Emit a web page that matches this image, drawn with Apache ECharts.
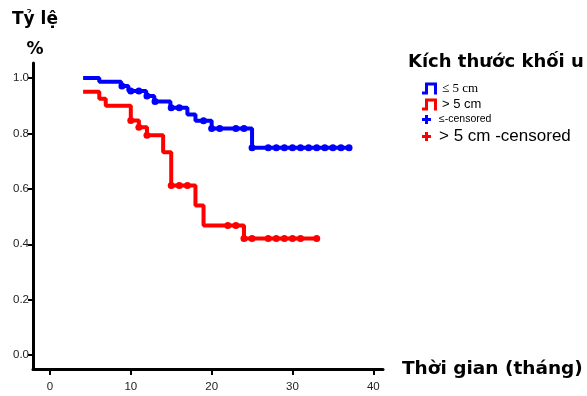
<!DOCTYPE html>
<html>
<head>
<meta charset="utf-8">
<title>Kaplan-Meier theo kích thước khối u</title>
<script src="https://cdn.jsdelivr.net/npm/echarts@6/dist/echarts.min.js"></script>
<style>
  html, body { margin: 0; padding: 0; background: #fff; }
  #chart { width: 587px; height: 396px; }
</style>
</head>
<body>
<div id="chart"></div>
<script>
// đường sống còn (thời điểm, tỷ lệ sau bước nhảy)
const smallTimes = [4.1, 6.1, 8.8, 9.7, 11.9, 12.9, 14.9, 17.0, 18.0, 20.0, 25.0, 37.0]
const smallSurv = [1.0, 0.986, 0.971, 0.953, 0.935, 0.915, 0.893, 0.868, 0.846, 0.818, 0.748, 0.748]
const largeTimes = [4.1, 6.1, 6.9, 10.0, 11.0, 12.0, 14.0, 15.0, 18.0, 19.0, 24.0, 33.3]
const largeSurv = [0.95, 0.925, 0.90, 0.847, 0.822, 0.793, 0.732, 0.612, 0.540, 0.468, 0.421, 0.421]

// các điểm kiểm duyệt
const smallCensorT = [8.9, 10, 11, 12, 13, 15, 16, 19, 20, 21, 23, 24, 25, 27, 28, 29, 30, 31, 32, 33, 34, 35, 36, 37]
const smallCensorS = [0.971, 0.953, 0.953, 0.935, 0.915, 0.893, 0.893, 0.846, 0.818, 0.818, 0.818, 0.818,
  0.748, 0.748, 0.748, 0.748, 0.748, 0.748, 0.748, 0.748, 0.748, 0.748, 0.748, 0.748]
const largeCensorT = [10, 11, 12, 15, 16, 17, 22, 23, 24, 25, 27, 28, 29, 30, 31, 33]
const largeCensorS = [0.847, 0.822, 0.793, 0.612, 0.612, 0.612, 0.468, 0.468,
  0.421, 0.421, 0.421, 0.421, 0.421, 0.421, 0.421, 0.421]

const xTicks = [0, 10, 20, 30, 40]
const yTicks = [0, 0.2, 0.4, 0.6, 0.8, 1.0]

const BLUE = '#0000ff'
const RED = '#ff0000'
const STEP_ICON = 'path://M0,9H3V0H15V12H12V3H6V12H0Z'
const PLUS_ICON = 'path://M3,0H6V3H9V6H6V9H3V6H0V3H3Z'
const BOLD = 'DejaVu Sans'

const zip = (a, b) => a.map((v, i) => [v, b[i]])

const chart = echarts.init(document.getElementById('chart'), null, { renderer: 'canvas' })

const legendItem = (name, icon, left, top, h, textStyle) => ({
  left, top, padding: 0, itemWidth: 15, itemHeight: h, selectedMode: false,
  data: [{ name, icon, textStyle }],
})

const option = {
  animation: false,
  title: {
    text: 'Kích thước khối u',
    left: 408, top: 53, padding: 0,
    textStyle: { fontFamily: BOLD, fontWeight: 'bold', fontSize: 18, color: '#000' },
  },
  legend: [
    legendItem('≤ 5 cm', STEP_ICON, 422, 82, 12, { fontFamily: 'Liberation Serif', fontSize: 13, color: '#000' }),
    legendItem('> 5 cm', STEP_ICON, 422, 98, 12, { fontFamily: 'Liberation Sans', fontSize: 13, color: '#000' }),
    legendItem('≤-censored', PLUS_ICON, 422, 114, 9, { fontFamily: 'Liberation Sans', fontSize: 10.5, color: '#000' }),
    legendItem('> 5 cm -censored', PLUS_ICON, 422, 128, 9, { fontFamily: 'Liberation Sans', fontSize: 17, color: '#000' }),
  ],
  grid: { left: 33, right: 204, top: 63, bottom: 27, containLabel: false },
  xAxis: {
    type: 'value', min: -2.1, max: 41.2,
    name: 'Thời gian (tháng)', nameLocation: 'end', nameGap: 19,
    nameTextStyle: { fontFamily: BOLD, fontWeight: 'bold', fontSize: 18.5, color: '#000', padding: [4, 0, 0, 0] },
    splitLine: { show: false },
    axisLine: { onZero: false, lineStyle: { color: '#000', width: 3 } },
    axisTick: { customValues: xTicks, length: 6, lineStyle: { color: '#000', width: 2 } },
    axisLabel: { customValues: xTicks, margin: 12, fontFamily: 'Liberation Sans', fontSize: 11.5, color: '#222' },
  },
  yAxis: {
    type: 'value', min: -0.05, max: 1.054,
    name: 'Tỷ lệ\n%', nameLocation: 'end', nameGap: -2,
    nameTextStyle: { fontFamily: BOLD, fontWeight: 'bold', fontSize: 17, color: '#000', align: 'center',
      lineHeight: 30, padding: [0, 0, 0, 4] },
    splitLine: { show: false },
    axisLine: { onZero: false, lineStyle: { color: '#000', width: 3 } },
    axisTick: { customValues: yTicks, length: 5, lineStyle: { color: '#000', width: 2 } },
    axisLabel: { customValues: yTicks, margin: 4, fontFamily: 'Liberation Sans', fontSize: 11.5, color: '#222',
      formatter: (v) => v.toFixed(1) },
  },
  series: [
    {
      name: '≤ 5 cm', type: 'line', step: 'end', showSymbol: false,
      data: zip(smallTimes, smallSurv),
      itemStyle: { color: BLUE }, lineStyle: { color: BLUE, width: 4 },
    },
    {
      name: '> 5 cm', type: 'line', step: 'end', showSymbol: false,
      data: zip(largeTimes, largeSurv),
      itemStyle: { color: RED }, lineStyle: { color: RED, width: 4 },
    },
    {
      name: '≤-censored', type: 'scatter', symbol: 'circle', symbolSize: 7,
      data: zip(smallCensorT, smallCensorS),
      itemStyle: { color: BLUE, opacity: 1 },
    },
    {
      name: '> 5 cm -censored', type: 'scatter', symbol: 'circle', symbolSize: 7,
      data: zip(largeCensorT, largeCensorS),
      itemStyle: { color: RED, opacity: 1 },
    },
  ],
}

chart.setOption(option)
</script>
</body>
</html>
